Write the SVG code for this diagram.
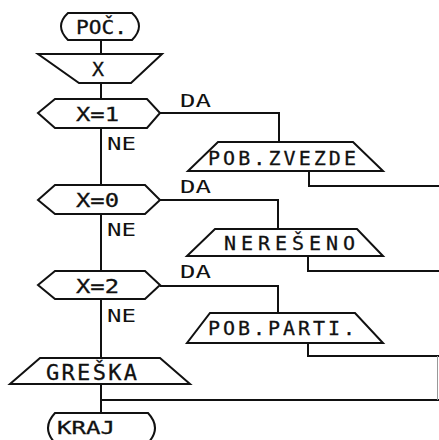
<svg xmlns="http://www.w3.org/2000/svg" width="439" height="440" viewBox="0 0 439 440">
<style>
.s{fill:#fff;stroke:#111;stroke-width:2;stroke-linejoin:miter}
.c{fill:none;stroke:#111;stroke-width:2}
.t{font-family:"DejaVu Sans Mono","Liberation Mono",monospace;font-size:20px;fill:#111;stroke:#111;stroke-width:0.3}
.l{font-family:"DejaVu Sans Mono","Liberation Mono",monospace;font-size:18px;fill:#111}
</style>
<rect width="439" height="440" fill="#fff"/>
<g id="connectors">
<path class="c" d="M101,40V54M101,83V99M101,128V185M101,214V271M101,299V358M101,385V413"/>
<path class="c" d="M160,113H279V142M309,171V186H439"/>
<path class="c" d="M160,200H278V229M308,256V271H439"/>
<path class="c" d="M160,286H278V313M308,343V356H439"/>
<path class="c" d="M101,400H439"/>
<path d="M437.5,356V400" fill="none" stroke="#999" stroke-width="1"/>
<text class="l" x="180" y="107" textLength="31" lengthAdjust="spacingAndGlyphs">DA</text>
<text class="l" x="107" y="150" textLength="29" lengthAdjust="spacingAndGlyphs">NE</text>
<text class="l" x="180" y="193" textLength="31" lengthAdjust="spacingAndGlyphs">DA</text>
<text class="l" x="107" y="236" textLength="29" lengthAdjust="spacingAndGlyphs">NE</text>
<text class="l" x="180" y="278" textLength="31" lengthAdjust="spacingAndGlyphs">DA</text>
<text class="l" x="107" y="322" textLength="29" lengthAdjust="spacingAndGlyphs">NE</text>
</g>
<g id="poc">
<path class="s" d="M68,13H132Q146,26 132,40H68Q54,26 68,13Z"/>
<text class="t" x="76" y="34" textLength="51" lengthAdjust="spacingAndGlyphs">POČ.</text>
</g>
<g id="input-x">
<path class="s" d="M38,54H162L131,83H79Z"/>
<text class="t" x="92" y="76">X</text>
</g>
<g id="dec1">
<path class="s" d="M38,113L55,99H147L160,113L147,128H55Z"/>
<text class="t" x="76" y="121" textLength="43" lengthAdjust="spacingAndGlyphs">X=1</text>
</g>
<g id="out-zvezde">
<path class="s" d="M218,142H353L383,171H188Z"/>
<text class="t" x="208" y="165" textLength="148" lengthAdjust="spacing">POB.ZVEZDE</text>
</g>
<g id="dec0">
<path class="s" d="M38,200L55,185H145L160,200L145,214H55Z"/>
<text class="t" x="76" y="207" textLength="43" lengthAdjust="spacingAndGlyphs">X=0</text>
</g>
<g id="out-nereseno">
<path class="s" d="M215,229H357L383,256H187Z"/>
<text class="t" x="224" y="250" textLength="131" lengthAdjust="spacing">NEREŠENO</text>
</g>
<g id="dec2">
<path class="s" d="M38,285L55,271H145L160,285L145,299H55Z"/>
<text class="t" x="76" y="293" textLength="43" lengthAdjust="spacingAndGlyphs">X=2</text>
</g>
<g id="out-parti">
<path class="s" d="M210,313H355L383,343H187Z"/>
<text class="t" x="208" y="335" textLength="147" lengthAdjust="spacing">POB.PARTI.</text>
</g>
<g id="out-greska">
<path class="s" d="M40,358H160L190,384H10Z"/>
<text class="t" x="46" y="380" style="font-size:22px" textLength="91" lengthAdjust="spacing">GREŠKA</text>
</g>
<g id="kraj">
<path class="s" d="M55,413H148Q162,428 148,443H55Q41,428 55,413Z"/>
<text class="t" x="57" y="434" style="font-size:18px" textLength="58" lengthAdjust="spacingAndGlyphs">KRAJ</text>
</g>
</svg>
